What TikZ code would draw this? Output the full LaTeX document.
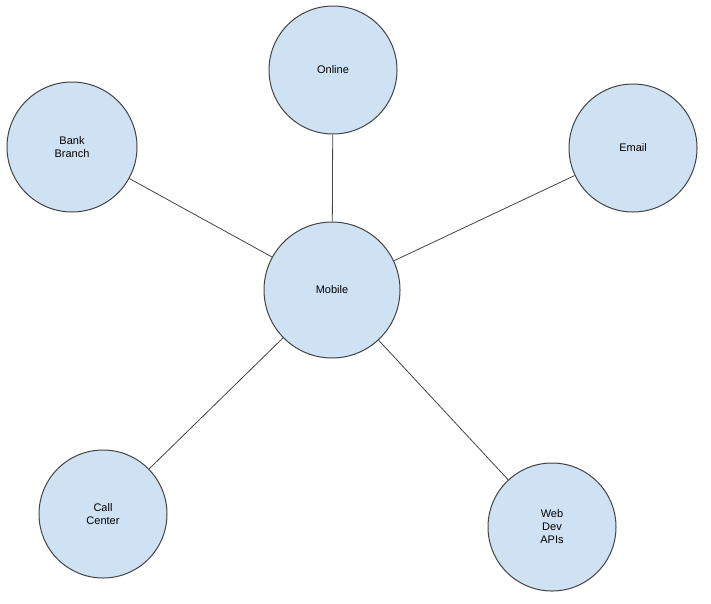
\documentclass[tikz,border=0pt]{standalone}
\usepackage{fontspec}
\setmainfont{Liberation Sans}
\definecolor{channelfill}{HTML}{CFE2F3}
\definecolor{channeldraw}{HTML}{434343}
\tikzset{
	channel/.style = {circle, draw=channeldraw, fill=channelfill, line width=1pt,
		minimum size=128pt, inner sep=0pt, align=center,
		font=\fontsize{11}{13}\selectfont},
	link/.style = {draw=channeldraw, line width=0.8pt}
}
\begin{document}
\begin{tikzpicture}[x=1pt, y=-1pt]
	\useasboundingbox (0,0) rectangle (711,603);
	% hub
	\node[channel, minimum size=136pt] (mobile) at (332,290) {Mobile};
	% channels
	\node[channel] (online) at (333,70) {Online};
	\node[channel, minimum size=130pt] (branch) at (72,147) {Bank\\Branch};
	\node[channel] (email) at (633,148) {Email};
	\node[channel] (callcenter) at (103,514) {Call\\Center};
	\node[channel] (webapi) at (552,527) {Web\\Dev\\APIs};
	% links
	\draw[link] (mobile) -- (online);
	\draw[link] (mobile) -- (branch);
	\draw[link] (mobile) -- (email);
	\draw[link] (mobile) -- (callcenter);
	\draw[link] (mobile) -- (webapi);
\end{tikzpicture}
\end{document}
